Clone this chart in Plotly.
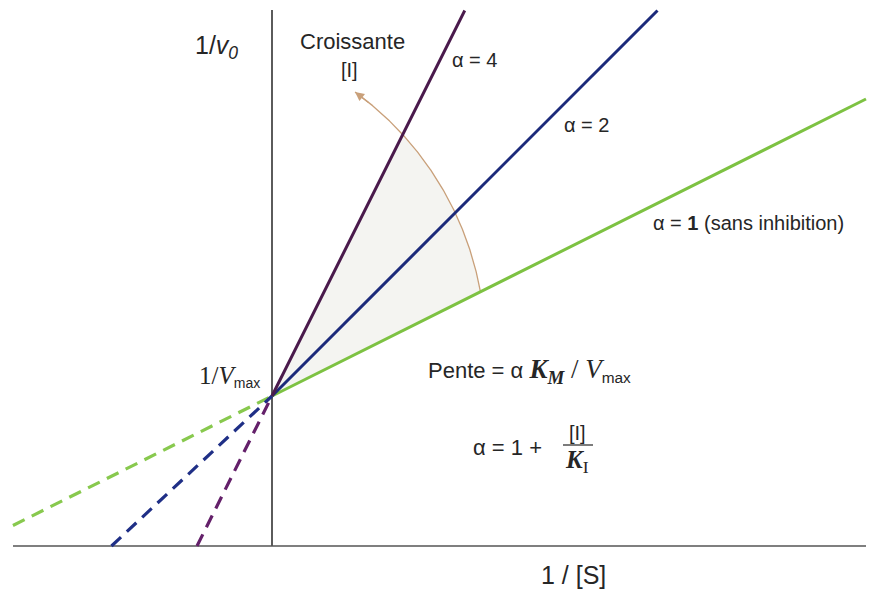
import numpy as np
import plotly.graph_objects as go

# Lineweaver-Burk, competitive inhibition (units: 1/Vmax = 1)
alphas = [1, 2, 4]
line_labels = ["α = <b>1</b> (sans inhibition)", "α = 2", "α = 4"]
y_intercept = 1.0
# solid part: from (0, 1/Vmax) to the upper end
x_right = [3.96, 2.57, 1.285]
y_right = [2.98, 3.57, 3.57]
# dashed extrapolation: from the lower-left end to (0, 1/Vmax)
x_left = [-1.727, -1.07, -0.5]
y_left = [0.137, 0.0, 0.0]

solid_colors = ["#7dc242", "#1c2a7a", "#4a1a4c"]
dash_colors = ["#88c94e", "#1f2f86", "#64206a"]
ink = "#262626"
arrow_col = "#c9a07a"
font = "Liberation Sans, Arial, sans-serif"
serif = "Liberation Serif, Times New Roman, serif"

# page has an 8px body margin; figure drawn inside it
OFF = 8
W, H = 882 - OFF, 594 - OFF
# 150 px per unit, origin at page pixel (272, 546)
X0, Y0, S = 272 - OFF, 546 - OFF, 150.0


def at(px, py):
    return (px - OFF - X0) / S, (Y0 - (py - OFF)) / S


fig = go.Figure()

# axes
fig.add_trace(go.Scatter(x=[0, 0], y=[0, at(0, 10)[1]], mode="lines",
                         line=dict(color="#333", width=1.6), hoverinfo="skip"))
fig.add_trace(go.Scatter(x=[at(13, 0)[0], at(866, 0)[0]], y=[0, 0], mode="lines",
                         line=dict(color="#555", width=1.4), hoverinfo="skip"))

# arc showing increasing [I]
cx, cy = at(169, 348)
r = 2.11
t = np.linspace(0, np.pi / 2, 4000)
ax_, ay_ = cx + r * np.cos(t), cy + r * np.sin(t)


def cross(i):
    s = (y_right[i] - y_intercept) / x_right[i]
    f = ay_ - (y_intercept + s * ax_)
    k = np.where(np.diff(np.sign(f)) != 0)[0][0]
    return t[k]


t_green, t_purple = cross(0), cross(2)
t_end = np.deg2rad(54)
tf = np.linspace(t_green, t_purple, 200)
fig.add_trace(go.Scatter(x=np.r_[0, cx + r * np.cos(tf), 0],
                         y=np.r_[y_intercept, cy + r * np.sin(tf), y_intercept],
                         fill="toself", fillcolor="#f4f4f1", mode="lines",
                         line=dict(width=0), hoverinfo="skip"))
ta = np.linspace(t_green, t_end, 300)
fig.add_trace(go.Scatter(x=cx + r * np.cos(ta), y=cy + r * np.sin(ta), mode="lines",
                         line=dict(color=arrow_col, width=1.3), hoverinfo="skip"))

# lines
for i, a in enumerate(alphas):
    fig.add_trace(go.Scatter(x=[x_left[i], 0], y=[y_left[i], y_intercept], mode="lines",
                             line=dict(color=dash_colors[i], width=3.2, dash="13px,8px"),
                             hoverinfo="skip"))
    fig.add_trace(go.Scatter(x=[0, x_right[i]], y=[y_intercept, y_right[i]], mode="lines",
                             line=dict(color=solid_colors[i], width=3), hoverinfo="skip",
                             name=f"α = {a}"))

ann = []


def txt(px, py, text, size=20, anchor="center", fam=font, color=ink):
    x, y = at(px, py)
    ann.append(dict(x=x, y=y, xref="x", yref="y", text=text, showarrow=False,
                    xanchor=anchor, yanchor="middle",
                    font=dict(family=fam, size=size, color=color)))


txt(216, 47, "1/<i>v<sub>0</sub></i>", 25)
txt(352, 41, "Croissante", 22)
txt(349, 70, "[I]", 20)
txt(450, 60, line_labels[2], 20, "left")
txt(562, 125, line_labels[1], 20, "left")
txt(651, 223, line_labels[0], 20, "left")
txt(262, 376, "<span style='font-family:Liberation Serif;font-size:25px'>1/<i>V</i></span>"
    "<sub>max</sub>", 20, "right")
txt(426, 371, "Pente = α <span style='font-family:Liberation Serif;font-size:27px'>"
    "<b><i>K</i></b><sub><b><i>M</i></b></sub> / <i>V</i></span><sub>max</sub>",
    22, "left")
txt(471, 447, "α = 1 + ", 22, "left")
txt(577, 433, "[I]", 20)
txt(577, 461, "<b><i>K</i></b><sub>I</sub>", 25, fam=serif)
txt(573, 575, "1 / [S]", 25)

# arrow head at the end of the arc
tx, ty = cx + r * np.cos(t_end), cy + r * np.sin(t_end)
bx, by = cx + r * np.cos(t_end - 0.06), cy + r * np.sin(t_end - 0.06)
ann.append(dict(x=tx, y=ty, ax=bx, ay=by, xref="x", yref="y", axref="x", ayref="y",
                text="", showarrow=True, arrowhead=2, arrowsize=1.4, arrowwidth=1.3,
                arrowcolor=arrow_col))

fx0, fy = at(563, 445)
fx1, _ = at(593, 445)
fig.add_shape(type="line", x0=fx0, x1=fx1, y0=fy, y1=fy, xref="x", yref="y",
              line=dict(color=ink, width=1.2))

fig.update_layout(
    width=W, height=H,
    margin=dict(l=0, r=0, t=0, b=0),
    paper_bgcolor="white", plot_bgcolor="white",
    showlegend=False,
    annotations=ann,
    xaxis=dict(range=[-X0 / S, (W - X0) / S], visible=False, fixedrange=True),
    yaxis=dict(range=[(Y0 - H) / S, Y0 / S], visible=False, fixedrange=True),
)
fig.write_html("out.html", config={"displayModeBar": False})
